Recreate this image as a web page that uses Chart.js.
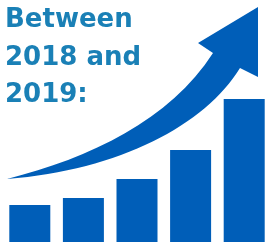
<!DOCTYPE html>
<html>
<head>
<meta charset="utf-8">
<script src="https://cdn.jsdelivr.net/npm/chart.js@4"></script>
<style>
    html, body { margin: 0; padding: 0; background: #fff; overflow: hidden; }
    #wrap { position: relative; width: 267px; height: 244px; overflow: hidden; }
    #chartBox { position: absolute; left: 3px; top: 0; width: 268px; height: 244px; }
    #headline {
        position: absolute; left: 5px; top: 0;
        font-family: "DejaVu Sans", sans-serif; font-weight: bold;
        font-size: 26px; line-height: 37.5px; color: #1a80b6;
    }
</style>
</head>
<body>
<div id="wrap">
    <div id="chartBox"><canvas id="myChart"></canvas></div>
    <div id="headline">Between<br>2018 and<br>2019:</div>
</div>
<script>
// bar heights (no axis shown, relative units)
const categories = ["1", "2", "3", "4", "5"];
const values = [37, 44, 63, 92, 143];
const yMax = 242;

const barBlue = "#005eb8";

// decorative curved arrow drawn over the bars
const arrowPlugin = {
    id: "arrow",
    afterDraw(chart) {
        const ctx = chart.ctx;
        ctx.save();
        ctx.translate(-3, 0);
        ctx.fillStyle = barBlue;
        ctx.beginPath();
        ctx.moveTo(7, 179);
        ctx.bezierCurveTo(90, 158, 170, 120, 213, 53);
        ctx.lineTo(198, 43);
        ctx.lineTo(258, 7);
        ctx.lineTo(258, 77);
        ctx.lineTo(240, 68);
        ctx.bezierCurveTo(205, 125, 120, 170, 7, 179);
        ctx.closePath();
        ctx.fill();
        ctx.restore();
    },
};

var data = {
    labels: categories,
    datasets: [
        {
            data: values,
            backgroundColor: barBlue,
            borderWidth: 0,
            categoryPercentage: 1,
            barPercentage: 0.765,
        },
    ],
};

var options = {
    responsive: true,
    maintainAspectRatio: false,
    animation: false,
    layout: { padding: { top: 0, left: 0, right: 0, bottom: 2 } },
    plugins: {
        legend: { display: false },
        tooltip: { enabled: false },
        title: { display: false },
    },
    scales: {
        x: { display: false },
        y: { display: false, min: 0, max: yMax },
    },
};

new Chart(document.getElementById("myChart"), {
    type: "bar",
    data: data,
    options: options,
    plugins: [arrowPlugin],
});
</script>
</body>
</html>
